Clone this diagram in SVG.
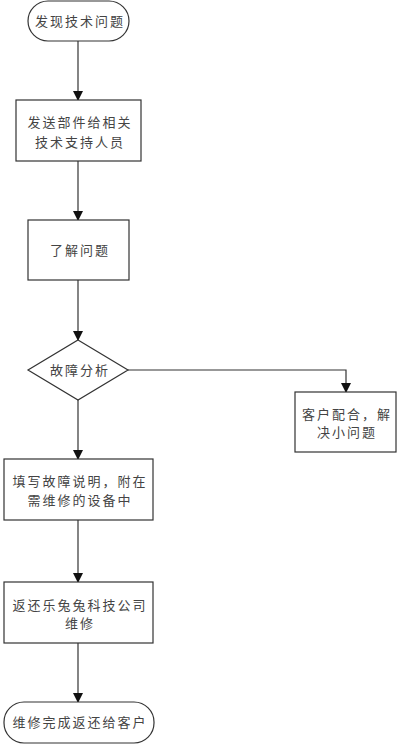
<svg xmlns="http://www.w3.org/2000/svg" width="400" height="744" viewBox="0 0 400 744">
<style>
.s{fill:#fff;stroke:#333;stroke-width:1.2}
.t{font-family:"Noto Sans CJK SC","Liberation Sans",sans-serif;font-size:13px;fill:#444;text-anchor:middle;letter-spacing:2px}
.c{fill:none;stroke:#333;stroke-width:1.2}
</style>
<defs>
<marker id="a" markerWidth="10" markerHeight="10" refX="9" refY="5" orient="auto" markerUnits="userSpaceOnUse">
<path d="M0,0 L10,5 L0,10 Z" fill="#111"/>
</marker>
</defs>
<rect width="400" height="744" fill="#fff"/>
<g id="connectors">
<path class="c" d="M78,41 V100" marker-end="url(#a)"/>
<path class="c" d="M78,161 V220" marker-end="url(#a)"/>
<path class="c" d="M78,280 V340" marker-end="url(#a)"/>
<path class="c" d="M128,370 H346 V392" marker-end="url(#a)"/>
<path class="c" d="M78,400 V459" marker-end="url(#a)"/>
<path class="c" d="M78,520 V582" marker-end="url(#a)"/>
<path class="c" d="M78,643 V702" marker-end="url(#a)"/>
</g>
<g id="start">
<rect class="s" x="28" y="1" width="101" height="40" rx="20"/>
<text class="t" x="80" y="26">发现技术问题</text>
</g>
<g id="send">
<rect class="s" x="16" y="100" width="125" height="61"/>
<text class="t" x="80" y="127">发送部件给相关</text>
<text class="t" x="80" y="147">技术支持人员</text>
</g>
<g id="understand">
<rect class="s" x="28" y="220" width="101" height="60"/>
<text class="t" x="80" y="255">了解问题</text>
</g>
<g id="analyze">
<polygon class="s" points="78,340 128,370 78,400 28,370"/>
<text class="t" x="80" y="375">故障分析</text>
</g>
<g id="customer">
<rect class="s" x="295" y="392" width="101" height="60"/>
<text class="t" x="347" y="419">客户配合，解</text>
<text class="t" x="347" y="437">决小问题</text>
</g>
<g id="fill">
<rect class="s" x="4" y="459" width="149" height="61"/>
<text class="t" x="80" y="486">填写故障说明，附在</text>
<text class="t" x="80" y="505">需维修的设备中</text>
</g>
<g id="return">
<rect class="s" x="4" y="582" width="149" height="61"/>
<text class="t" x="80" y="610">返还乐兔兔科技公司</text>
<text class="t" x="80" y="628">维修</text>
</g>
<g id="end">
<rect class="s" x="4" y="702" width="150" height="41" rx="20"/>
<text class="t" x="80" y="727">维修完成返还给客户</text>
</g>
</svg>
